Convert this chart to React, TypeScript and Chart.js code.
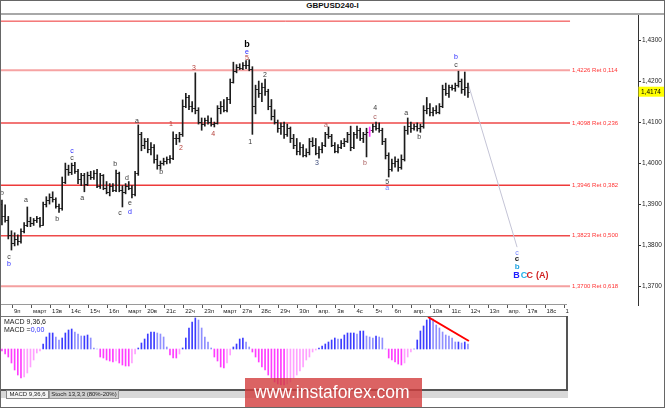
import { useEffect, useRef } from "react";
import Chart from "chart.js/auto";

Chart.defaults.font.family = "'Liberation Sans', Arial, sans-serif";
Chart.defaults.color = "#222";

// 4H bars, in points (1 point = 0.0001)
const OPEN = [
  13900, 13870, 13862, 13825, 13805, 13815, 13810, 13835, 13850, 13860,
  13855, 13862, 13865, 13850, 13900, 13910, 13918, 13912, 13895, 13890,
  13955, 13985, 13978, 13995, 13980, 13960, 13970, 13950, 13972, 13965,
  13975, 13945, 13970, 13940, 13930, 13945, 13935, 13975, 13935, 13930,
  13945, 13940, 13925, 13975, 14070, 14045, 14055, 14035, 14040, 14010,
  13995, 14000, 14005, 14010, 14012, 14060, 14062, 14070, 14140, 14160,
  14140, 14135, 14130, 14100, 14095, 14105, 14100, 14095, 14098, 14135,
  14140, 14130, 14155, 14198, 14225, 14235, 14232, 14240, 14238, 14230,
  14140, 14180, 14170, 14185, 14175, 14140, 14115, 14100, 14085, 14090,
  14070, 14085, 14060, 14045, 14030, 14040, 14020, 14028, 14055, 14045,
  14025, 14035, 14045, 14070, 14065, 14045, 14030, 14040, 14048, 14055,
  14070, 14040, 14070, 14080, 14060, 14070, 14075, 14080, 14090, 14085,
  14080, 14055, 14020, 13985, 14000, 14005, 13990, 14010, 14080, 14090,
  14085, 14090, 14085, 14090, 14130, 14135, 14125, 14130, 14125, 14140,
  14180, 14170, 14185, 14182, 14190, 14200, 14180, 14185,
];
const HIGH = [
  13910, 13898, 13870, 13835, 13830, 13825, 13840, 13855, 13893, 13868,
  13865, 13870, 13868, 13905, 13918, 13925, 13930, 13915, 13900, 13966,
  14000, 13995, 14000, 14002, 13985, 13975, 13975, 13978, 13980, 13982,
  13985, 13975, 13972, 13955, 13950, 13950, 13983, 13978, 13945, 13950,
  13955, 13945, 13980, 14093, 14075, 14060, 14060, 14050, 14045, 14020,
  14005, 14012, 14015, 14018, 14076, 14070, 14075, 14154, 14170, 14165,
  14150, 14220, 14135, 14110, 14110, 14115, 14110, 14100, 14140, 14150,
  14155, 14160, 14205, 14246, 14240, 14242, 14245, 14250, 14252, 14235,
  14190, 14200, 14195, 14205, 14180, 14155, 14130, 14105, 14098, 14100,
  14095, 14088, 14070, 14060, 14050, 14045, 14035, 14060, 14062, 14060,
  14040, 14050, 14075, 14088, 14070, 14050, 14045, 14055, 14060, 14075,
  14090, 14075, 14090, 14085, 14075, 14085, 14088, 14095, 14100, 14098,
  14085, 14060, 14025, 14010, 14015, 14010, 14020, 14090, 14110, 14100,
  14095, 14098, 14095, 14140, 14160, 14145, 14135, 14140, 14145, 14190,
  14195, 14190, 14190, 14195, 14224, 14205, 14222, 14195,
];
const LOW = [
  13849, 13856, 13815, 13788, 13798, 13800, 13805, 13830, 13845, 13845,
  13848, 13855, 13844, 13848, 13893, 13900, 13905, 13890, 13880, 13885,
  13950, 13970, 13972, 13975, 13950, 13945, 13930, 13945, 13960, 13960,
  13940, 13938, 13935, 13925, 13920, 13930, 13930, 13930, 13893, 13925,
  13935, 13915, 13920, 13970, 14030, 14035, 14025, 14020, 14000, 13985,
  13985, 13995, 13998, 14000, 14008, 14045, 14051, 14065, 14135, 14130,
  14125, 14120, 14095, 14080, 14090, 14095, 14090, 14088, 14095, 14120,
  14125, 14125, 14145, 14195, 14220, 14228, 14228, 14230, 14225, 14070,
  14120, 14160, 14150, 14165, 14130, 14105, 14095, 14075, 14070, 14060,
  14065, 14050, 14035, 14020, 14020, 14015, 14015, 14020, 14040, 14020,
  14012, 14025, 14040, 14060, 14040, 14025, 14025, 14035, 14040, 14050,
  14030, 14035, 14060, 14055, 14050, 14015, 14065, 14075, 14080, 14075,
  14045, 14010, 13966, 13980, 13990, 13980, 13985, 14005, 14070, 14075,
  14080, 14078, 14075, 14085, 14120, 14115, 14115, 14120, 14120, 14135,
  14165, 14160, 14178, 14175, 14185, 14170, 14165, 14160,
];
const CLOSE = [
  13870, 13862, 13825, 13805, 13815, 13810, 13835, 13850, 13860, 13855,
  13862, 13865, 13850, 13900, 13910, 13918, 13912, 13895, 13890, 13955,
  13985, 13978, 13995, 13980, 13960, 13970, 13950, 13972, 13965, 13975,
  13945, 13970, 13940, 13930, 13945, 13935, 13975, 13935, 13930, 13945,
  13940, 13925, 13975, 14070, 14045, 14055, 14035, 14040, 14010, 13995,
  14000, 14005, 14010, 14012, 14060, 14062, 14070, 14140, 14160, 14140,
  14135, 14130, 14100, 14095, 14105, 14100, 14095, 14098, 14135, 14140,
  14130, 14155, 14198, 14225, 14235, 14232, 14240, 14238, 14230, 14140,
  14180, 14170, 14185, 14175, 14140, 14115, 14100, 14085, 14090, 14070,
  14085, 14060, 14045, 14030, 14040, 14020, 14028, 14055, 14045, 14025,
  14035, 14045, 14070, 14065, 14045, 14030, 14040, 14048, 14055, 14070,
  14040, 14070, 14080, 14060, 14070, 14075, 14080, 14090, 14085, 14080,
  14055, 14020, 13985, 14000, 14005, 13990, 14010, 14080, 14090, 14085,
  14090, 14085, 14090, 14130, 14135, 14125, 14130, 14125, 14140, 14180,
  14170, 14185, 14182, 14190, 14200, 14180, 14185, 14174,
];

// MACD 9,36,6 histogram (arbitrary units)
const MACD = [
  -2, -5, -8, -14, -21, -26, -29, -28, -24, -18,
  -11, -4, -2, 5, 12, 16, 16, 12, 9, 11,
  16, 19, 20, 17, 15, 13, 13, 14, 11, 1,
  0, -8, -9, -11, -12, -13, -12, -14, -16, -17,
  -17, -14, -5, 1, 6, 10, 15, 17, 17, 16,
  15, 12, 2, -6, -9, -9, -5, 1, 11, 21,
  27, 31, 29, 21, 12, 7, 1, -8, -12, -18,
  -19, -14, -6, 2, 5, 10, 11, 7, 2, -3,
  -8, -13, -18, -21, -26, -29, -33, -35, -36, -36,
  -35, -33, -29, -26, -22, -18, -11, -8, -3, -1,
  1, 3, 5, 7, 9, 11, 10, 10, 14, 16,
  16, 16, 15, 18, 18, 13, 12, 11, 13, 12,
  11, 0, -9, -11, -13, -15, -16, -14, -8, -3,
  0, 9, 18, 23, 29, 31, 30, 24, 21, 17,
  14, 13, 11, 7, 7, 6, 7, 5,
];
const MACD_TREND = [
  { x: 134.4, y: 32 },
  { x: 147.3, y: 8 },
];

const DAYS = [
  "9п", "март", "13в", "14с", "15ч", "16п", "март", "20в", "21с", "22ч",
  "23п", "март", "27в", "28с", "29ч", "30п", "апр.", "3в", "4с", "5ч",
  "6п", "апр.", "10в", "11с", "12ч", "13п", "апр.", "17в", "18с", "1",
];
const PRICE_TICKS = [1.37, 1.38, 1.39, 1.4, 1.41, 1.42, 1.43];
const FIB_LEVELS = [1.4346, 1.4226, 1.4098, 1.3946, 1.3823, 1.37];
const FIB_RATIOS = ["", "0,114", "0,236", "0,382", "0,500", "0,618"];
const LAST_PRICE = 1.4174;
const PROJECTION = [
  { x: 147, y: 1.4195 },
  { x: 162.5, y: 1.3795 },
];
const MAGENTA_BAR = 116;

// [bar, points, text, tone]
const WAVE_LABELS: [number, number, string, string][] = [
  [0, 13927, "b", "k"],
  [2.2, 13771, "c", "k"],
  [2.2, 13754, "b", "blue"],
  [7.6, 13910, "a", "k"],
  [17.4, 13864, "b", "k"],
  [22.1, 14029, "c", "blue"],
  [22.1, 14012, "c", "k"],
  [25.3, 13915, "a", "k"],
  [35.7, 13998, "b", "k"],
  [37.2, 13878, "c", "k"],
  [39.4, 13964, "d", "k"],
  [40.4, 13903, "e", "k"],
  [40.4, 13881, "d", "blue"],
  [42.6, 14103, "a", "k"],
  [50.2, 13978, "b", "k"],
  [53.3, 14095, "1", "red"],
  [56.5, 14037, "2", "red"],
  [60.6, 14232, "3", "red"],
  [66.6, 14071, "4", "red"],
  [77.3, 14290, "b", "top"],
  [77.3, 14271, "e", "blue"],
  [77.3, 14256, "5", "red"],
  [78.3, 14051, "1", "k"],
  [83, 14215, "2", "k"],
  [99.4, 14000, "3", "navy"],
  [102.2, 14093, "a", "brown"],
  [114.5, 14000, "b", "brown"],
  [117.7, 14134, "4", "k"],
  [117.7, 14112, "c", "brown"],
  [121.5, 13954, "5", "k"],
  [121.5, 13939, "a", "pale"],
  [127.5, 14122, "a", "k"],
  [131.6, 14063, "b", "k"],
  [143.2, 14259, "b", "blue"],
  [143.2, 14239, "c", "k"],
  [162.5, 13781, "c", "pale"],
  [162.5, 13766, "c", "bold"],
  [162.5, 13747, "b", "cyan"],
  [162.3, 13725, "B", "B"],
  [164.7, 13725, "C", "C"],
  [166.5, 13725, "C", "A"],
  [170.4, 13725, "(A)", "A"],
];

const FONT = "'Liberation Sans', Arial, sans-serif";
const TONES: Record<string, { color: string; font: string }> = {
  k: { color: "#3a3a3a", font: `7px ${FONT}` },
  blue: { color: "#2b2bff", font: `7px ${FONT}` },
  pale: { color: "#6f7fff", font: `7px ${FONT}` },
  red: { color: "#b5403a", font: `7px ${FONT}` },
  brown: { color: "#a85a5a", font: `7px ${FONT}` },
  navy: { color: "#3b4a7a", font: `7px ${FONT}` },
  top: { color: "#000", font: `bold 9px ${FONT}` },
  bold: { color: "#222", font: `bold 8px ${FONT}` },
  cyan: { color: "#1fa3e0", font: `bold 8px ${FONT}` },
  B: { color: "#2020ff", font: `bold 9px ${FONT}` },
  C: { color: "#1fb0e8", font: `bold 9px ${FONT}` },
  A: { color: "#d02020", font: `bold 9px ${FONT}` },
};

const FIB_COLORS = ["#ee3030", "#f6a3a3", "#ee4848", "#ee3a3a", "#ee4a4a", "#f4a0a0"];
const FIB_WIDTHS = [1, 2, 1.5, 1.5, 1.5, 2];

const X_MIN = -0.3;
const X_MAX = 200.64;
const X_MAX_MACD = 177.93;
const Y_MIN = 1.3654;
const Y_MAX = 1.4361;
const FIRST_DAY = 3.33;
const FIB_END = 179.2;

const toPrice = (v: number) => v / 10000;
const fmt = (v: number) => v.toFixed(4).replace(".", ",");
const barColor = (i: number) => (i === MAGENTA_BAR ? "#ff3cff" : "#1c1c1c");

const mainPlugin = {
  id: "mainPlugin",
  afterDatasetsDraw(chart: any) {
    const { ctx } = chart;
    const y = chart.scales.y;
    const meta = chart.getDatasetMeta(0);
    ctx.save();
    ctx.lineWidth = 1;
    meta.data.forEach((bar: any, i: number) => {
      const yo = Math.round(y.getPixelForValue(toPrice(OPEN[i]))) + 0.5;
      const yc = Math.round(y.getPixelForValue(toPrice(CLOSE[i]))) + 0.5;
      ctx.strokeStyle = barColor(i);
      ctx.beginPath();
      ctx.moveTo(bar.x - 1.6, yo);
      ctx.lineTo(bar.x, yo);
      ctx.moveTo(bar.x, yc);
      ctx.lineTo(bar.x + 1.6, yc);
      ctx.stroke();
    });
    ctx.restore();
  },
  afterDraw(chart: any) {
    const { ctx, chartArea } = chart;
    const { x, y } = chart.scales;
    ctx.save();
    ctx.textBaseline = "middle";
    ctx.textAlign = "left";
    ctx.font = `6px ${FONT}`;
    ctx.fillStyle = "#ff3333";
    FIB_LEVELS.forEach((p, k) => {
      if (FIB_RATIOS[k]) ctx.fillText(`${fmt(p)} Ret ${FIB_RATIOS[k]}`, x.getPixelForValue(FIB_END) + 2, y.getPixelForValue(p));
    });
    ctx.textAlign = "center";
    WAVE_LABELS.forEach(([i, p, text, tone]) => {
      const t = TONES[tone];
      ctx.font = t.font;
      ctx.fillStyle = t.color;
      ctx.fillText(text, x.getPixelForValue(i), y.getPixelForValue(toPrice(p)));
    });
    const ty = y.getPixelForValue(LAST_PRICE);
    ctx.fillStyle = "#ffff00";
    ctx.fillRect(chartArea.right + 0.5, ty - 5, 27, 10);
    ctx.fillStyle = "#000";
    ctx.textAlign = "left";
    ctx.font = `6.5px ${FONT}`;
    ctx.fillText(fmt(LAST_PRICE), chartArea.right + 3, ty + 0.5);
    ctx.restore();
  },
};

function mainConfig(): any {
  return {
    type: "line",
    data: {
      datasets: [
        {
          type: "bar",
          data: HIGH.map((h, i) => ({ x: i, y: [toPrice(LOW[i]), toPrice(h)] })),
          backgroundColor: HIGH.map((_, i) => barColor(i)),
          barThickness: 1,
          borderWidth: 0,
        },
        {
          data: PROJECTION,
          borderColor: "#c4c4d6",
          borderWidth: 1,
          pointRadius: 0,
        },
        ...FIB_LEVELS.map((p, k) => ({
          data: [
            { x: X_MIN, y: p },
            { x: FIB_END, y: p },
          ],
          borderColor: FIB_COLORS[k],
          borderWidth: FIB_WIDTHS[k],
          pointRadius: 0,
        })),
      ],
    },
    options: {
      responsive: false,
      animation: false,
      events: [],
      layout: { padding: { left: 1, top: 0, right: 0, bottom: 0 } },
      plugins: { legend: { display: false }, tooltip: { enabled: false } },
      scales: {
        x: {
          type: "linear",
          min: X_MIN,
          max: X_MAX,
          bounds: "data",
          offset: false,
          position: "bottom",
          afterBuildTicks: (s: any) => {
            s.ticks = DAYS.map((_, k) => ({ value: FIRST_DAY + 6 * k }));
          },
          afterFit: (s: any) => {
            s.height = 12;
            s.paddingLeft = 0;
            s.paddingRight = 0;
          },
          grid: { offset: false, drawOnChartArea: false, drawTicks: true, tickLength: 3, color: "#555" },
          border: { display: false },
          ticks: {
            autoSkip: false,
            maxRotation: 0,
            minRotation: 0,
            align: "start",
            labelOffset: 1.5,
            padding: 0,
            font: { size: 6 },
            color: "#222",
            callback: (_v: any, i: number) => DAYS[i],
          },
        },
        y: {
          type: "linear",
          position: "right",
          min: Y_MIN,
          max: Y_MAX,
          bounds: "data",
          afterBuildTicks: (s: any) => {
            s.ticks = PRICE_TICKS.map((value) => ({ value }));
          },
          afterFit: (s: any) => {
            s.width = 27;
            s.paddingTop = 0;
            s.paddingBottom = 0;
          },
          grid: { drawOnChartArea: false, drawTicks: true, tickLength: 3, color: "#333" },
          border: { display: true, color: "#333" },
          ticks: { padding: 1, font: { size: 6.5 }, color: "#222", callback: (v: number) => fmt(v) },
        },
      },
    },
    plugins: [mainPlugin],
  };
}

function macdColor(i: number) {
  const v = MACD[i];
  const prev = i > 0 ? MACD[i - 1] : 0;
  if (v >= 0) return v >= prev ? "#3c3cff" : "#8f8fff";
  return v <= prev ? "#ff3cff" : "#ffa0ff";
}

function macdConfig(): any {
  return {
    type: "line",
    data: {
      datasets: [
        {
          data: MACD_TREND,
          borderColor: "#ff0000",
          borderWidth: 2,
          pointRadius: 0,
        },
        {
          type: "bar",
          data: MACD.map((v, i) => ({ x: i, y: v })),
          backgroundColor: MACD.map((_, i) => macdColor(i)),
          barThickness: 1,
          borderWidth: 0,
        },
      ],
    },
    options: {
      responsive: false,
      animation: false,
      events: [],
      layout: { padding: { left: 1, top: 0, right: 0, bottom: 0 } },
      plugins: { legend: { display: false }, tooltip: { enabled: false } },
      scales: {
        x: { type: "linear", min: X_MIN, max: X_MAX_MACD, bounds: "data", offset: false, display: false, grid: { offset: false } },
        y: { type: "linear", min: -40, max: 32, bounds: "data", display: false },
      },
    },
  };
}

const abs = (left: number, top: number, width: number, height: number, extra: any = {}) => ({
  position: "absolute" as const,
  left,
  top,
  width,
  height,
  ...extra,
});

export default function App() {
  const mainRef = useRef<HTMLCanvasElement>(null);
  const macdRef = useRef<HTMLCanvasElement>(null);

  useEffect(() => {
    if (!mainRef.current || !macdRef.current) return;
    const main = new Chart(mainRef.current, mainConfig());
    const macd = new Chart(macdRef.current, macdConfig());
    return () => {
      main.destroy();
      macd.destroy();
    };
  }, []);

  return (
    <div
      style={{
        position: "absolute",
        left: 0,
        top: 0,
        width: 665,
        height: 408,
        background: "#fff",
        overflow: "hidden",
        fontFamily: FONT,
      }}
    >
      <div style={abs(0, 1, 665, 10, { textAlign: "center", fontWeight: "bold", fontSize: 8, lineHeight: "10px", color: "#111" })}>
        GBPUSD240-I
      </div>
      <div style={abs(0, 13, 665, 2, { background: "#a8a8a8" })} />
      <canvas ref={mainRef} width={665} height={302} style={abs(0, 15, 665, 302)} />
      <div style={abs(0, 304, 567, 1, { background: "#9a9a9a" })} />

      <div style={abs(0, 316, 568, 1, { background: "#777" })} />
      <canvas ref={macdRef} width={566} height={72} style={abs(0, 317, 566, 72)} />
      <div style={abs(566, 316, 2, 75, { background: "#555" })} />
      <div style={abs(0, 389, 568, 2, { background: "#555" })} />
      <div style={abs(4, 318, 80, 16, { fontSize: 7, lineHeight: "7.5px", color: "#222" })}>
        MACD 9,36,6
        <br />
        MACD =<span style={{ color: "#3030ff" }}>0,00</span>
      </div>

      <div style={abs(0, 391, 568, 7, { background: "#d8d8d8" })} />
      <div
        style={abs(6, 390, 41, 7, {
          background: "#f4f4f4",
          border: "1px solid #888",
          fontSize: 6,
          lineHeight: "7px",
          textAlign: "center",
          color: "#222",
        })}
      >
        MACD 9,36,6
      </div>
      <div
        style={abs(49, 390, 68, 7, {
          background: "#cfcfcf",
          border: "1px solid #999",
          fontSize: 6,
          lineHeight: "7px",
          textAlign: "center",
          color: "#222",
        })}
      >
        Stoch 13,3,3 (80%-20%)
      </div>

      <div style={abs(245, 378, 177, 30, { background: "rgba(210,60,60,0.8)" })} />
      <div style={abs(254, 383, 170, 20, { color: "#fff", fontSize: 17.5, lineHeight: "18px", whiteSpace: "nowrap" })}>
        www.instaforex.com
      </div>

      <div style={abs(0, 0, 665, 408, { boxSizing: "border-box", border: "1px solid #666", pointerEvents: "none" })} />
    </div>
  );
}
